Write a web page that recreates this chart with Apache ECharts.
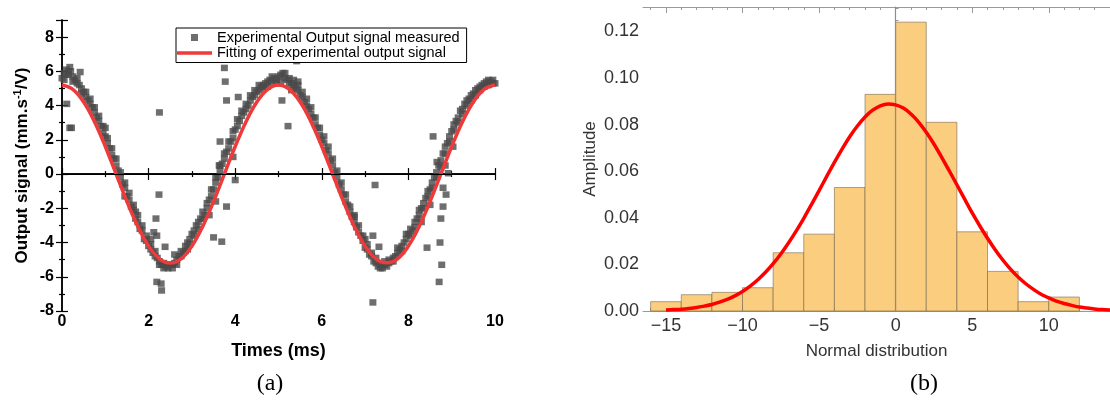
<!DOCTYPE html>
<html><head><meta charset="utf-8">
<script src="https://cdn.jsdelivr.net/npm/echarts@6/dist/echarts.min.js"></script>
<style>html,body{margin:0;padding:0;background:#fff}#c{width:1110px;height:401px}</style>
</head><body><div id="c"></div>
<script>
// ---------- Panel (a): measured output signal [time ms, value] ----------
const signalPoints = [
[0.00,5.6],[0.05,5.9],[0.10,6.1],[0.15,5.8],[0.20,6.0],[0.25,5.7],[0.30,5.5],[0.35,5.3],[0.40,5.2],[0.45,5.0],
[0.50,4.8],[0.55,4.5],[0.60,4.3],[0.65,4.1],[0.70,3.9],[0.75,3.6],[0.80,3.3],[0.85,3.1],[0.90,2.8],[0.95,2.4],
[1.00,2.2],[1.05,1.8],[1.10,1.5],[1.15,1.1],[1.20,0.9],[1.25,0.5],[1.30,0.2],[1.35,-0.2],[1.40,-0.6],[1.45,-0.8],
[1.50,-1.3],[1.55,-1.5],[1.60,-1.9],[1.65,-2.1],[1.70,-2.6],[1.75,-2.8],[1.80,-3.2],[1.85,-3.3],[1.90,-3.8],[1.95,-3.9],
[2.00,-4.2],[2.05,-4.1],[2.10,-4.6],[2.15,-4.5],[2.20,-4.9],[2.25,-5.1],[2.30,-5.3],[2.35,-5.5],[2.40,-5.4],[2.45,-5.5],
[2.50,-5.3],[2.55,-5.5],[2.60,-5.2],[2.65,-5.0],[2.70,-4.8],[2.75,-4.5],[2.80,-4.6],[2.85,-4.2],[2.90,-4.0],[2.95,-3.8],
[3.00,-3.5],[3.05,-3.6],[3.10,-3.0],[3.15,-3.2],[3.20,-2.6],[3.25,-2.2],[3.30,-2.4],[3.35,-2.0],[3.40,-1.5],[3.45,-1.3],
[3.50,-0.9],[3.55,-0.5],[3.60,-0.2],[3.65,0.2],[3.70,0.6],[3.75,0.9],[3.80,1.3],[3.85,1.5],[3.90,1.9],[3.95,2.1],
[4.00,2.6],[4.05,2.8],[4.10,3.1],[4.15,3.4],[4.20,3.6],[4.25,3.8],[4.30,4.0],[4.35,4.3],[4.40,4.5],[4.45,4.6],
[4.50,4.8],[4.55,4.9],[4.60,5.1],[4.65,5.2],[4.70,5.3],[4.75,5.4],[4.80,5.5],[4.85,5.4],[4.90,5.6],[4.95,5.5],
[5.00,5.7],[5.05,5.8],[5.10,5.9],[5.15,5.6],[5.20,5.5],[5.25,5.6],[5.30,5.3],[5.35,5.2],[5.40,5.0],[5.45,4.9],
[5.50,4.6],[5.55,4.5],[5.60,4.2],[5.65,4.0],[5.70,3.8],[5.75,3.5],[5.80,3.3],[5.85,2.9],[5.90,2.7],[5.95,2.3],
[6.00,2.0],[6.05,1.8],[6.10,1.4],[6.15,1.2],[6.20,0.8],[6.25,0.5],[6.30,0.1],[6.35,-0.2],[6.40,-0.6],[6.45,-0.9],
[6.50,-1.2],[6.55,-1.6],[6.60,-1.8],[6.65,-2.2],[6.70,-2.5],[6.75,-2.8],[6.80,-3.1],[6.85,-3.4],[6.90,-3.6],[6.95,-3.9],
[7.00,-4.3],[7.05,-4.4],[7.10,-4.7],[7.15,-4.8],[7.20,-5.1],[7.25,-5.2],[7.30,-5.4],[7.35,-5.3],[7.40,-5.5],[7.45,-5.3],
[7.50,-5.4],[7.55,-5.2],[7.60,-5.1],[7.65,-4.9],[7.70,-4.8],[7.75,-4.6],[7.80,-4.4],[7.85,-4.2],[7.90,-4.0],[7.95,-3.8],
[8.00,-3.5],[8.05,-3.2],[8.10,-3.3],[8.15,-2.8],[8.20,-2.6],[8.25,-2.4],[8.30,-2.0],[8.35,-1.7],[8.40,-1.4],[8.45,-1.3],
[8.50,-0.9],[8.55,-0.5],[8.60,-0.2],[8.65,0.1],[8.70,0.5],[8.75,0.8],[8.80,1.2],[8.85,1.6],[8.90,1.8],[8.95,2.2],
[9.00,2.5],[9.05,2.9],[9.10,3.1],[9.15,3.3],[9.20,3.7],[9.25,3.8],[9.30,4.1],[9.35,4.3],[9.40,4.4],[9.45,4.6],
[9.50,4.7],[9.55,4.9],[9.60,5.0],[9.65,5.1],[9.70,5.2],[9.75,5.3],[9.80,5.4],[9.85,5.5],[9.90,5.4],[9.95,5.5],[10.0,5.3]
];
// second sweep of measured points (band spread)
const spreadPoints = [
[0.05,5.5],[0.15,6.0],[0.25,5.4],[0.35,5.6],[0.45,4.7],[0.55,4.8],[0.65,4.4],[0.75,3.9],[0.85,3.4],[0.95,2.8],
[1.05,2.1],[1.15,1.5],[1.25,0.9],[1.35,0.1],[1.45,-0.5],[1.55,-1.1],[1.65,-1.8],[1.75,-2.4],[1.85,-3.0],[1.95,-3.6],
[2.05,-4.4],[2.15,-4.8],[2.25,-5.3],[2.35,-5.2],[2.45,-5.3],[2.55,-5.3],[2.65,-5.3],[2.75,-4.8],[2.85,-4.5],[2.95,-4.1],
[3.05,-3.3],[3.15,-2.8],[3.25,-2.6],[3.35,-1.7],[3.45,-0.9],[3.55,-0.2],[3.65,0.5],[3.75,1.2],[3.85,1.9],[3.95,2.5],
[4.05,3.2],[4.15,3.7],[4.25,4.1],[4.35,4.6],[4.45,4.9],[4.55,5.2],[4.65,5.0],[4.75,5.1],[4.85,5.7],[4.95,5.3],
[5.05,5.4],[5.15,5.9],[5.25,5.3],[5.35,5.5],[5.45,5.2],[5.55,4.8],[5.65,4.4],[5.75,3.9],[5.85,3.3],[5.95,2.7],
[6.05,2.2],[6.15,1.6],[6.25,0.9],[6.35,0.2],[6.45,-0.5],[6.55,-1.2],[6.65,-1.9],[6.75,-2.5],[6.85,-3.0],[6.95,-3.6],
[7.05,-4.1],[7.15,-4.6],[7.25,-4.9],[7.35,-5.5],[7.45,-5.1],[7.55,-5.0],[7.65,-5.1],[7.75,-4.3],[7.85,-4.5],[7.95,-3.5],
[8.05,-3.6],[8.15,-3.1],[8.25,-2.1],[8.35,-2.0],[8.45,-1.0],[8.55,-0.8],[8.65,-0.2],[8.75,0.4],[8.85,1.2],[8.95,1.9],
[9.05,2.6],[9.15,3.0],[9.25,3.5],[9.35,4.0],[9.45,4.3],[9.55,4.6],[9.65,4.9],[9.75,5.1],[9.85,5.2],[9.95,5.3]
];
// outlying measured points
const outlierPoints = [
[0.09,5.8],[0.18,6.25],[0.42,5.96],[0.11,4.1],[0.18,2.7],[0.22,2.7],[2.25,3.6],[3.75,6.2],[3.77,5.4],[3.80,4.3],
[4.07,4.5],[3.65,1.9],[3.63,0.5],[3.95,1.0],[4.00,-0.35],[2.24,-1.2],[5.22,2.8],[5.42,6.6],[5.08,4.3],[7.23,-0.64],
[8.57,2.2],[8.66,0.7],[8.85,0.5],[8.92,0.05],[8.80,-0.8],[9.03,1.6],[2.19,-6.3],[2.29,-6.4],[2.30,-6.8],[2.17,-2.6],
[2.38,-4.25],[3.50,-3.7],[3.69,-3.95],[3.80,-1.9],[2.19,-3.6],[7.18,-7.5],[7.18,-3.6],[7.32,-4.25],[8.71,-6.3],[8.77,-5.3],
[8.73,-4.0],[8.43,-4.3],[8.75,-2.6],[8.80,-1.9],[8.87,-1.2],[2.12,-3.4],[2.05,-3.8],[3.40,-2.4],[3.55,-1.6],[5.30,4.9],
[5.45,5.4],[1.45,-1.3],[1.70,-2.2],[2.60,-4.7],[2.90,-4.4],[8.30,-2.8],[8.50,-1.8],[7.00,-3.8],[6.75,-2.4],[1.00,2.7]
];
const fitTimes  = [0,0.25,0.5,0.75,1,1.25,1.5,1.75,2,2.25,2.5,2.75,3,3.25,3.5,3.75,4,4.25,4.5,4.75,5,
                   5.25,5.5,5.75,6,6.25,6.5,6.75,7,7.25,7.5,7.75,8,8.25,8.5,8.75,9,9.25,9.5,9.75,10];
const fitValues = [5.2,4.95,4.21,3.06,1.61,0,-1.61,-3.06,-4.21,-4.95,-5.2,-4.95,-4.21,-3.06,-1.61,0,1.61,3.06,4.21,4.95,5.2,
                   4.95,4.21,3.06,1.61,0,-1.61,-3.06,-4.21,-4.95,-5.18,-4.95,-4.21,-3.06,-1.61,0,1.61,3.06,4.21,4.95,5.2];

// ---------- Panel (b): histogram + normal fit ----------
const binEdges   = [-16,-14,-12,-10,-8,-6,-4,-2,0,2,4,6,8,10,12];
const binHeights = [0.004,0.007,0.008,0.010,0.025,0.033,0.053,0.093,0.124,0.081,0.034,0.017,0.004,0.006];
const curveX = [-15,-14.5,-14,-13.5,-13,-12.5,-12,-11.5,-11,-10.5,-10,-9.5,-9,-8.5,-8,-7.5,-7,-6.5,-6,-5.5,
                -5,-4.5,-4,-3.5,-3,-2.5,-2,-1.5,-1,-0.5,0,0.5,1,1.5,2,2.5,3,3.5,4,4.5,
                5,5.5,6,6.5,7,7.5,8,8.5,9,9.5,10,10.5,11,11.5,12,12.5,13,13.5,14];
const curveY = [0.0004,0.0006,0.0008,0.0011,0.0015,0.0021,0.0028,0.0038,0.0050,0.0065,0.0084,0.0107,0.0134,0.0166,0.0203,0.0245,0.0292,0.0343,0.0398,0.0457,
                0.0517,0.0578,0.0638,0.0695,0.0748,0.0794,0.0833,0.0862,0.0881,0.0889,0.0885,0.0871,0.0846,0.0811,0.0767,0.0717,0.0661,0.0602,0.0542,0.0481,
                0.0421,0.0365,0.0312,0.0263,0.0219,0.0180,0.0146,0.0117,0.0093,0.0072,0.0056,0.0042,0.0032,0.0024,0.0017,0.0013,0.0009,0.0006,0.0004];
const bMajorTicks = [-15,-10,-5,0,5,10];
const bMinorTicks = [-16,-14,-13,-12,-11,-9,-8,-7,-6,-4,-3,-2,-1,1,2,3,4,6,7,8,9,11,12,13,14];

const nameA = 'Experimental Output signal measured';
const nameFit = 'Fitting of experimental output signal';
const SANS = 'Liberation Sans';
const boldTxt = {fontFamily: SANS, fontWeight: 'bold', fontSize: 16, color: '#000'};
const grayAxis = '#9a9a9a';
const fitColor = '#ee3a3a';
const minus = v => (v < 0 ? '\u2212' + Math.abs(v) : String(v));

const chart = echarts.init(document.getElementById('c'), null, {renderer: 'canvas'});
const blackLine = {lineStyle: {color: '#000', width: 1.5}};
// negative length => ticks drawn toward the plot interior
const inTick = (len) => ({show: true, inside: false, length: -len, lineStyle: {color: '#000', width: 1.2}});
const inMinor = (n) => ({show: true, splitNumber: n, length: -3, lineStyle: {color: '#000', width: 1.2}});
const grayTick = (len, vals) => ({show: true, inside: false, length: -len, customValues: vals, lineStyle: {color: grayAxis, width: 1}});

chart.setOption({
  animation: false,
  backgroundColor: '#fff',
  grid: [
    {left: 62, top: 20, width: 433, height: 291},
    {left: 643, top: 7, width: 467, height: 304}
  ],
  legend: {
    left: 176, top: 28, orient: 'vertical',
    itemWidth: 35, itemHeight: 7, itemGap: 0.5,
    padding: [2, 7, 2, 1],
    borderColor: '#000', borderWidth: 1, backgroundColor: '#fff',
    symbolKeepAspect: true,
    textStyle: {fontFamily: SANS, fontSize: 14.5, color: '#000'},
    data: [{name: nameA, icon: 'path://M0,0H10V10H0Z'},
           {name: nameFit, icon: 'path://M0,0H35V3.5H0Z', itemStyle: {color: fitColor}}]
  },
  xAxis: [
    {gridIndex: 0, type: 'value', min: 0, max: 10, interval: 2, position: 'bottom',
     axisLine: blackLine, axisTick: inTick(6), minorTick: inMinor(2), splitLine: {show: false},
     axisLabel: Object.assign({margin: 3}, boldTxt),
     name: 'Times (ms)', nameLocation: 'middle', nameGap: 31,
     nameTextStyle: Object.assign({}, boldTxt, {fontSize: 18})},
    {gridIndex: 0, type: 'value', min: 0, max: 10, interval: 2, position: 'top',
     axisLine: blackLine, axisTick: inTick(6), minorTick: inMinor(2), splitLine: {show: false},
     axisLabel: {show: false}},
    {gridIndex: 1, type: 'value', min: -16.5, max: 14, position: 'bottom',
     axisLine: {lineStyle: {color: grayAxis, width: 1}}, axisTick: grayTick(6, bMajorTicks),
     splitLine: {show: false},
     axisLabel: {customValues: bMajorTicks, formatter: minus, fontFamily: SANS, fontSize: 18, color: '#333', margin: 6},
     name: 'Normal distribution', nameLocation: 'middle', nameGap: 32,
     nameTextStyle: {fontFamily: SANS, fontSize: 17, color: '#333'}},
    {gridIndex: 1, type: 'value', min: -16.5, max: 14, position: 'bottom',
     axisLine: {show: false}, axisTick: grayTick(3, bMinorTicks), axisLabel: {show: false}, splitLine: {show: false}},
    {gridIndex: 1, type: 'value', min: -16.5, max: 14, position: 'top',
     axisLine: {lineStyle: {color: grayAxis, width: 1}}, axisTick: grayTick(6, bMajorTicks),
     axisLabel: {show: false}, splitLine: {show: false}},
    {gridIndex: 1, type: 'value', min: -16.5, max: 14, position: 'top',
     axisLine: {show: false}, axisTick: grayTick(3, bMinorTicks), axisLabel: {show: false}, splitLine: {show: false}}
  ],
  yAxis: [
    {gridIndex: 0, type: 'value', min: -8, max: 9, interval: 2, position: 'left',
     axisLine: blackLine, axisTick: inTick(6), minorTick: inMinor(2), splitLine: {show: false},
     axisLabel: Object.assign({margin: 8, showMaxLabel: false}, boldTxt),
     name: '{b|Output signal (mm.s}{s|-1}{b|/V)}', nameLocation: 'middle', nameGap: 31,
     nameTextStyle: {rich: {
       b: {fontFamily: SANS, fontWeight: 'bold', fontSize: 17, color: '#000', verticalAlign: 'bottom'},
       s: {fontFamily: SANS, fontWeight: 'bold', fontSize: 11, color: '#000', verticalAlign: 'bottom', padding: [0, 0, 8, 0]}
     }}},
    {gridIndex: 0, type: 'value', min: -8, max: 9, interval: 2, position: 'right',
     axisLine: blackLine, axisTick: inTick(6), minorTick: inMinor(2), splitLine: {show: false},
     axisLabel: {show: false}},
    {gridIndex: 1, type: 'value', min: 0, max: 0.1305, interval: 0.02, position: 'left',
     axisLine: {lineStyle: {color: grayAxis, width: 1}},
     axisTick: {show: true, inside: false, length: -6, lineStyle: {color: grayAxis}},
     minorTick: {show: true, splitNumber: 4, length: -3, lineStyle: {color: grayAxis}},
     splitLine: {show: false},
     axisLabel: {formatter: v => v.toFixed(2), showMaxLabel: false, fontFamily: SANS, fontSize: 18, color: '#333', margin: 4},
     name: 'Amplitude', nameLocation: 'middle', nameGap: 44,
     nameTextStyle: {fontFamily: SANS, fontSize: 17, color: '#333'}}
  ],
  series: [
    {name: nameA, type: 'scatter', xAxisIndex: 0, yAxisIndex: 0,
     data: signalPoints.concat(spreadPoints, outlierPoints), symbol: 'rect', symbolSize: [7, 6.5],
     itemStyle: {color: '#4a4a4a'}, z: 3,
     markLine: {silent: true, symbol: 'none', label: {show: false},
       lineStyle: {color: '#000', width: 1, type: 'solid'}, data: [{yAxis: 0}]}},
    {name: nameFit, type: 'line', xAxisIndex: 0, yAxisIndex: 0,
     data: fitTimes.map((t, i) => [t, fitValues[i]]), smooth: 0.4, symbol: 'none', showSymbol: false,
     lineStyle: {color: fitColor, width: 3.5}, itemStyle: {color: fitColor}, z: 4},
    {name: 'hist', type: 'custom', xAxisIndex: 2, yAxisIndex: 2,
     data: binHeights.map((h, i) => [binEdges[i], binEdges[i + 1], h]),
     encode: {x: [0, 1], y: 2},
     renderItem: (params, api) => {
       const p0 = api.coord([api.value(0), api.value(2)]);
       const p1 = api.coord([api.value(1), 0]);
       return {type: 'rect', shape: {x: p0[0], y: p0[1], width: p1[0] - p0[0], height: p1[1] - p0[1]},
               style: {fill: '#fbcd7f', stroke: 'rgba(110,95,70,0.55)', lineWidth: 1}};
     }, z: 2},
    {name: 'axis0', type: 'line', xAxisIndex: 2, yAxisIndex: 2, data: [], z: 3,
     markLine: {silent: true, symbol: 'none', label: {show: false},
       lineStyle: {color: '#8c8c8c', width: 1.2, type: 'solid'}, data: [{xAxis: 0}]}},
    {name: 'normal', type: 'line', xAxisIndex: 2, yAxisIndex: 2,
     data: curveX.map((x, i) => [x, curveY[i]]), smooth: 0.3, symbol: 'none', showSymbol: false,
     lineStyle: {color: '#ff0000', width: 3.5}, z: 5}
  ],
  graphic: [
    {type: 'text', x: 270, y: 384, style: {text: '(a)', font: '24px "Liberation Serif"', fill: '#000', align: 'center', verticalAlign: 'middle'}},
    {type: 'text', x: 924, y: 384, style: {text: '(b)', font: '24px "Liberation Serif"', fill: '#000', align: 'center', verticalAlign: 'middle'}}
  ]
});
</script></body></html>
